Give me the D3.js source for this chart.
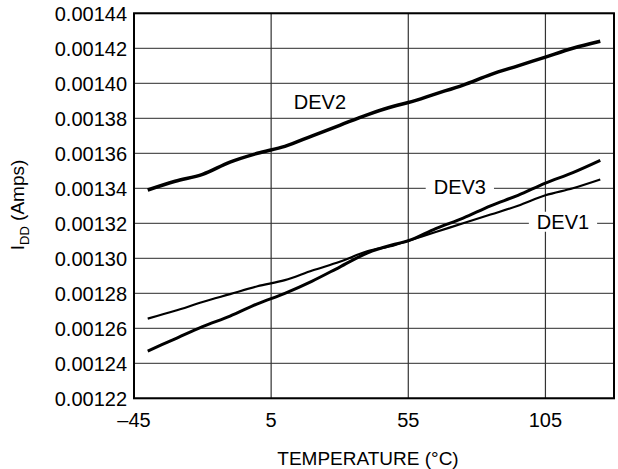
<!DOCTYPE html>
<html><head><meta charset="utf-8">
<script src="https://cdn.jsdelivr.net/npm/d3@7"></script>
<style>html,body{margin:0;padding:0;background:#fff;}svg{display:block;font-family:"Liberation Sans",Arial,sans-serif;}</style>
</head><body>
<svg id="c" width="618" height="469"></svg>
<script>
const temps = [-40,-30,-20,-10,0,10,20,30,40,50,55,65,75,85,95,105,115,125];
const dev1 = [0.0012655,0.00127,0.001275,0.0012795,0.001284,0.0012875,0.001293,0.001298,0.001304,0.0013075,0.00131,0.001315,0.00132,0.001325,0.00133,0.001336,0.00134,0.001345];
const dev2 = [0.001339,0.001344,0.001348,0.001355,0.00136,0.001364,0.00137,0.001376,0.001382,0.001387,0.001389,0.001394,0.001399,0.001405,0.00141,0.001415,0.00142,0.001424];
const dev3 = [0.001247,0.001254,0.001261,0.001267,0.001274,0.00128,0.001287,0.001295,0.001303,0.001308,0.00131,0.001317,0.001323,0.00133,0.001336,0.001343,0.001349,0.001356];
const xTicks = [-45,5,55,105];
const yTicks = [0.00122,0.00124,0.00126,0.00128,0.0013,0.00132,0.00134,0.00136,0.00138,0.0014,0.00142,0.00144];
const seriesNames = ["DEV1","DEV2","DEV3"];

const svg = d3.select("#c");
const L=134, R=614, T=13.3, B=398.3;
const x = d3.scaleLinear().domain([-45,130]).range([L,R]);
const y = d3.scaleLinear().domain([0.00122,0.00144]).range([B,T]);

// grid
svg.append("g").selectAll("line").data(yTicks).join("line")
  .attr("x1",L).attr("x2",R).attr("y1",d=>y(d)).attr("y2",d=>y(d))
  .attr("stroke","#555").attr("stroke-width",1.2);
svg.append("g").selectAll("line").data(xTicks.slice(1)).join("line")
  .attr("x1",d=>x(d)).attr("x2",d=>x(d)).attr("y1",T).attr("y2",B)
  .attr("stroke","#333").attr("stroke-width",1.2);

// series labels (white boxes over grid)
const labels = [
  {name:seriesNames[1], t:22.8, v:0.0013895},
  {name:seriesNames[2], t:73.8, v:0.001341},
  {name:seriesNames[0], t:111.4, v:0.001321}
];
labels.forEach(l=>{
  const g = svg.append("g");
  const tx = g.append("text").attr("x",x(l.t)).attr("y",y(l.v)).attr("dy","0.36em")
    .attr("text-anchor","middle").attr("font-size",20).text(l.name);
  const bb = tx.node().getBBox();
  g.insert("rect","text").attr("x",bb.x-8).attr("y",bb.y+1).attr("width",bb.width+16).attr("height",bb.height-2).attr("fill","#fff");
});

// lines
const mk = vals => d3.line().x((d,i)=>x(temps[i])).y(d=>y(d)).curve(d3.curveMonotoneX)(vals);
svg.append("path").attr("d",mk(dev1)).attr("fill","none").attr("stroke","#000").attr("stroke-width",2.2);
svg.append("path").attr("d",mk(dev3)).attr("fill","none").attr("stroke","#000").attr("stroke-width",3);
svg.append("path").attr("d",mk(dev2)).attr("fill","none").attr("stroke","#000").attr("stroke-width",3.5);

// frame
svg.append("rect").attr("x",L).attr("y",T).attr("width",R-L).attr("height",B-T)
  .attr("fill","none").attr("stroke","#000").attr("stroke-width",2);

// axes labels
const fmt = d3.format(".5f");
svg.append("g").selectAll("text").data(yTicks).join("text")
  .attr("x",L-7).attr("y",d=>y(d)).attr("dy","0.36em").attr("text-anchor","end")
  .attr("font-size",20).text(d=>fmt(d));
svg.append("g").selectAll("text").data(xTicks).join("text")
  .attr("x",d=>x(d)).attr("y",426.5).attr("text-anchor","middle")
  .attr("font-size",20).text(d=>d<0?"\u2013"+Math.abs(d):String(d));
svg.append("text").attr("x",368).attr("y",465).attr("text-anchor","middle")
  .attr("font-size",19).text("TEMPERATURE (\u00B0C)");
const yl = svg.append("text").attr("transform","translate(24,205) rotate(-90)")
  .attr("text-anchor","middle").attr("font-size",19);
yl.append("tspan").text("I");
yl.append("tspan").attr("font-size",13).attr("dy",5).text("DD");
yl.append("tspan").attr("dy",-5).text(" (Amps)");
</script>
</body></html>
